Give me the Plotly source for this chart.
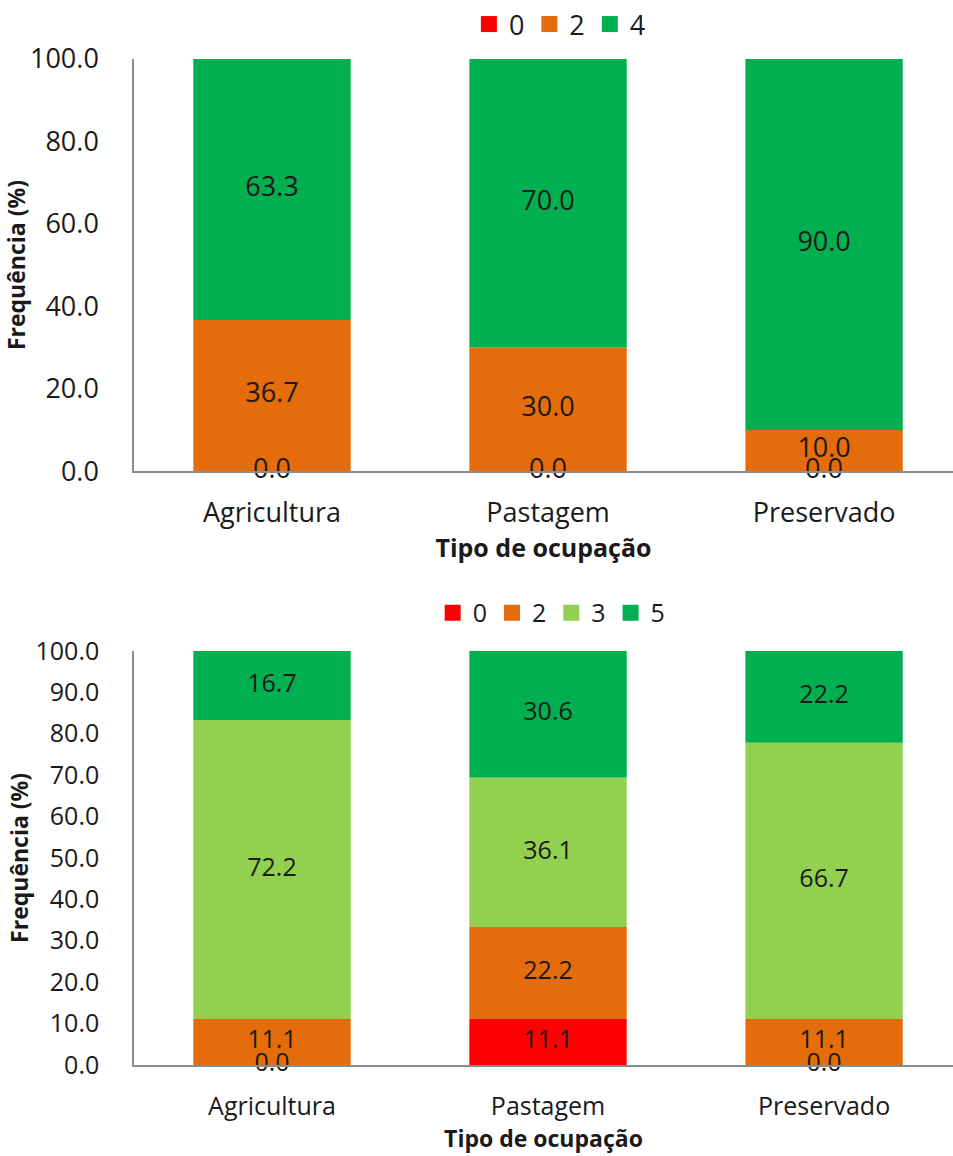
import plotly.graph_objects as go

# ---------------- data ----------------
categories = ["Agricultura", "Pastagem", "Preservado"]

top_names = ["0", "2", "4"]
top_s0 = [0.0, 0.0, 0.0]
top_s2 = [36.7, 30.0, 10.0]
top_s4 = [63.3, 70.0, 90.0]

bot_names = ["0", "2", "3", "5"]
bot_s0 = [0.0, 11.1, 0.0]
bot_s2 = [11.1, 22.2, 11.1]
bot_s3 = [72.2, 36.1, 66.7]
bot_s5 = [16.7, 30.6, 22.2]

y_title = "Frequência (%)"
x_title = "Tipo de ocupação"

# ---------------- styles ----------------
colors = {"0": "#FF0000", "2": "#E46C0A", "3": "#92D050", "4": "#00B050", "5": "#00B050"}
FONT = "Open Sans"
TXT = "#1a1a1a"
AXC = "#8c8c8c"

fig = go.Figure()


def add_stack(names, series, xa, ya, legend, fsize):
    base = [0.0] * len(categories)
    lx, ly, lt = [], [], []
    for name, vals in zip(names, series):
        fig.add_trace(go.Bar(
            x=categories, y=vals, base=base, name=name,
            marker=dict(color=colors[name], line=dict(width=0)),
            width=0.57, xaxis=xa, yaxis=ya, showlegend=False, hoverinfo="skip"))
        for c, b, v in zip(categories, base, vals):
            lx.append(c)
            ly.append(b + v / 2.0)
            lt.append(f"{v:.1f}")
        base = [b + v for b, v in zip(base, vals)]
        # legend proxy
        fig.add_trace(go.Scatter(
            x=[None], y=[None], mode="markers", name=name,
            marker=dict(symbol="square", size=17, color=colors[name]),
            xaxis=xa, yaxis=ya, legend=legend, showlegend=True))
    fig.add_trace(go.Scatter(
        x=lx, y=ly, text=lt, mode="text", textposition="middle center",
        textfont=dict(family=FONT, size=fsize, color=TXT),
        xaxis=xa, yaxis=ya, showlegend=False, cliponaxis=False, hoverinfo="skip"))


add_stack(top_names, [top_s0, top_s2, top_s4], "x", "y", "legend", 27)
add_stack(bot_names, [bot_s0, bot_s2, bot_s3, bot_s5], "x2", "y2", "legend2", 25)

T, B = 57, 91
H = 1156
ph = H - T - B


def frac(px):
    return (H - B - px) / ph


def yax(domain, dtick, fs):
    return dict(domain=domain, range=[0, 100], dtick=dtick, tickformat=".1f",
                showline=True, linecolor=AXC, linewidth=1.5, showgrid=False, zeroline=False,
                ticks="outside", ticklen=28, tickcolor="rgba(0,0,0,0)",
                tickfont=dict(family=FONT, size=fs, color=TXT),
                title=dict(text="<b>" + y_title + "</b>", standoff=0,
                           font=dict(family=FONT, size=23, color=TXT)))


def xax(anchor, fs, tl, ts):
    return dict(anchor=anchor, domain=[0, 1], range=[-0.5, 2.467], type="category",
                showline=True, linecolor=AXC, linewidth=1.5, showgrid=False, zeroline=False,
                ticks="outside", ticklen=tl, tickcolor="rgba(0,0,0,0)",
                tickfont=dict(family=FONT, size=fs, color=TXT),
                title=dict(text="<b>" + x_title + "</b>", standoff=0,
                           font=dict(family=FONT, size=ts, color=TXT)))


fig.update_layout(
    width=953, height=H,
    margin=dict(l=134, r=0, t=T, b=B),
    paper_bgcolor="white", plot_bgcolor="white",
    barmode="overlay",
    font=dict(family=FONT, color=TXT),
    yaxis=yax([frac(470), 1.0], 20, 27),
    yaxis2=yax([0.0, frac(650)], 10, 25),
    xaxis=xax("y", 27, 17, 25),
    xaxis2=xax("y2", 25, 18, 23),
    legend=dict(orientation="h", x=0.52, xanchor="center", y=1 + 35 / ph, yanchor="middle",
                font=dict(family=FONT, size=27, color=TXT), itemwidth=30,
                bgcolor="rgba(0,0,0,0)"),
    legend2=dict(orientation="h", x=0.51, xanchor="center", y=frac(612), yanchor="middle",
                 font=dict(family=FONT, size=25, color=TXT), itemwidth=30,
                 bgcolor="rgba(0,0,0,0)"),
)

fig.write_html("out.html")
